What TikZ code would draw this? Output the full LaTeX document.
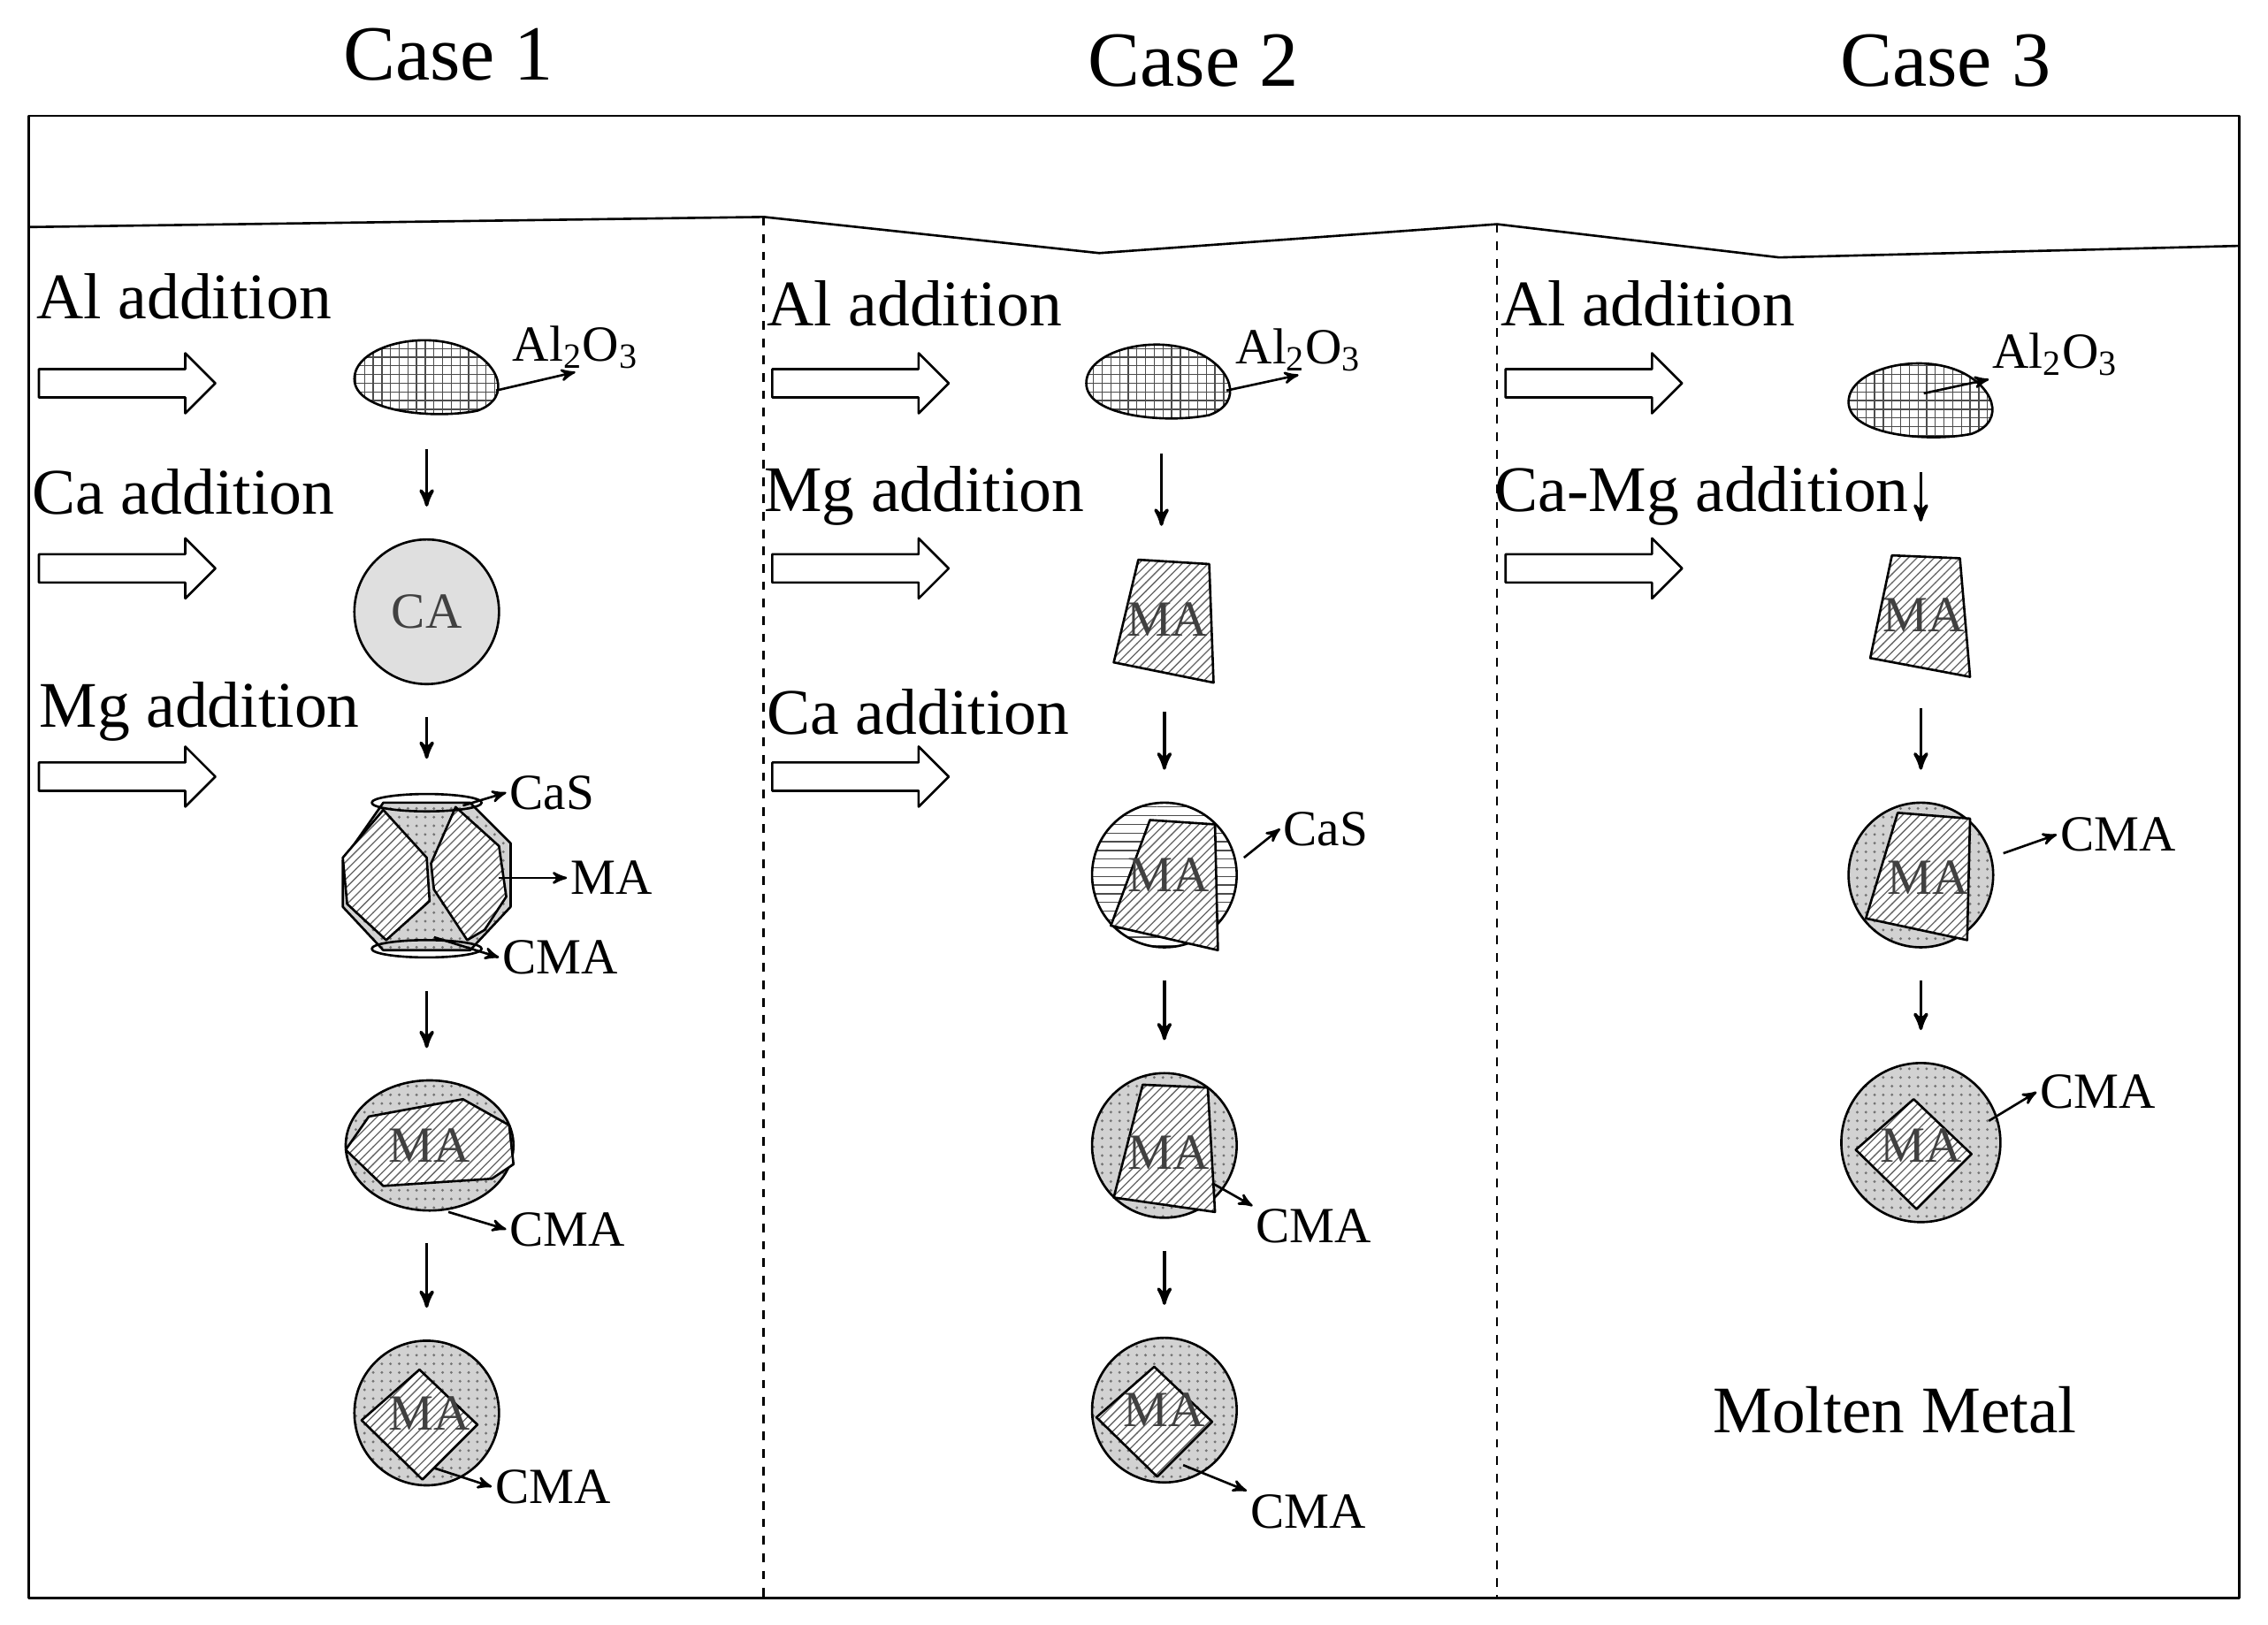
\documentclass[tikz,border=0pt]{standalone}
\usepackage{fontspec}
\setmainfont{Liberation Serif}
\usetikzlibrary{arrows,shapes.arrows,shapes.geometric,patterns,positioning}

\tikzset{
  case/.style={font=\fontsize{27}{30}\selectfont},
  add/.style={font=\fontsize{22.5}{25}\selectfont,anchor=west,inner sep=0},
  lab/.style={font=\fontsize{17.5}{20}\selectfont,inner sep=1pt},
  inlab/.style={font=\fontsize{17.5}{20}\selectfont,inner sep=0,text=black!75},
  hollow/.style={single arrow,draw,thick,fill=white,inner sep=4.5pt,minimum width=20pt,
    minimum height=61pt,single arrow head extend=5.5pt,single arrow head indent=0pt},
  slot/.style={inner sep=0,minimum width=#1},
  down/.style={->,>=stealth',line width=1.1pt,shorten >=11pt,shorten <=11pt},
  ptr/.style={->,>=stealth',thick},
  alo/.style={draw,thick,preaction={fill=white},pattern=grid,pattern color=black!70},
  ma/.style={draw,thick,preaction={fill=white},pattern=north east lines,pattern color=black!60},
  cma/.style={draw,thick,preaction={fill=gray!35},pattern=dots,pattern color=black!55},
  cas/.style={draw,thick,pattern=horizontal lines,pattern color=black!70},
}

\begin{document}
\begin{tikzpicture}[x=0.5pt,y=-0.5pt,line join=round]
\useasboundingbox (0,0) rectangle (1568,1123);
% frame and melt surface
\draw[thick] (20,80) rectangle (1548,1105);
\draw[thick] (20,157) -- (528,150) -- (760,175) -- (1035,155) -- (1230,178) -- (1548,170);
\draw[thick,dashed] (528,150) -- (528,1105);
\draw[thick,dashed] (1035,155) -- (1035,1105);
\node[case] (t1) at (310,38) {Case 1};
\node[case] (t2) at (825,42) {Case 2};
\node[case] (t3) at (1345,42) {Case 3};

% additions
\node[add] (ad11) at (25,205) {Al addition};
\node[add] (ad12) at (22,340) {Ca addition};
\node[add] (ad13) at (27,492) {Mg addition};
\node[add] (ad21) at (530,210) {Al addition};
\node[add] (ad22) at (528,343) {Mg addition};
\node[add] (ad23) at (530,492) {Ca addition};
\node[add] (ad31) at (1037,210) {Al addition};
\node[add] (ad32) at (1033,343) {Ca-Mg addition};
\foreach \x/\n in {83/1,590/2,1097/3}{
  \node[hollow] (h\n a) at (\x,265) {};
  \node[hollow] (h\n b) at (\x,393) {};
}
\node[hollow] (h1c) at (83,537) {};
\node[hollow] (h2c) at (590,537) {};

% ---- case 1
\node[slot=52pt,minimum height=26pt] (p11) at (295,262) {};
\draw[alo] (245,262) .. controls (245,240) and (290,228) .. (320,240)
  .. controls (345,250) and (355,275) .. (330,284) .. controls (300,290) and (245,285) .. cycle;
\node[lab,anchor=west] (l11) at (352,240) {Al\textsubscript{2}O\textsubscript{3}};
\draw[ptr] (343,270) -- (l11.south);
\node[circle,draw,thick,fill=gray!25,minimum size=50pt,inner sep=0] (p12) at (295,423) {};
\node[inlab] at (p12) {CA};
\node[slot=58pt,minimum height=58pt] (p13) at (295,605) {};
\begin{scope}[shift={(295,605)}]
  \draw[cma] (-30,-50) -- (30,-50) -- (58,-22) -- (58,22) -- (30,52) -- (-30,52) -- (-58,22) -- (-58,-10) -- cycle;
  \draw[ma] (-30,-45) -- (-58,-12) -- (-55,20) -- (-28,45) -- (2,18) -- (0,-12) -- cycle;
  \draw[ma] (20,-47) -- (50,-20) -- (55,15) -- (40,38) -- (28,45) -- (5,10) -- (3,-8) -- cycle;
  \draw[thick] (0,-50) ellipse (38 and 6);
  \draw[thick] (0,51) ellipse (38 and 6);
\end{scope}
\node[lab,anchor=west] (l12) at (350,548) {CaS};
\node[lab,anchor=west] (l13) at (392,607) {MA};
\node[lab,anchor=west] (l14) at (345,662) {CMA};
\draw[ptr] (320,557) -- (l12.west);
\draw[ptr] (345,607) -- (l13.west);
\draw[ptr] (300,648) -- (l14.west);
\node[slot=58pt,minimum height=45pt] (p14) at (295,792) {};
\draw[cma] (297,792) ellipse (58 and 45);
\draw[ma] (239,795) -- (255,772) -- (320,760) -- (352,778) -- (355,805) -- (340,815) -- (265,820) -- cycle;
\node[inlab] at (297,792) {MA};
\node[lab,anchor=west] (l15) at (350,850) {CMA};
\draw[ptr] (310,838) -- (l15.west);
\node[circle,cma,minimum size=50pt,inner sep=0] (p15) at (295,977) {};
\draw[ma] (295,977) ++(-45,5) -- ++(40,-35) -- ++(40,38) -- ++(-38,38) -- cycle;
\node[inlab] at (297,977) {MA};
\node[lab,anchor=west] (l16) at (340,1028) {CMA};
\draw[ptr] (300,1015) -- (l16.west);
\foreach \a/\b in {p11/p12,p12/p13,p13/p14,p14/p15}
  \draw[down] (\a.south) -- (\a.south |- \b.north);

% ---- case 2
\node[slot=52pt,minimum height=26pt] (p21) at (803,265) {};
\draw[alo] (751,265) .. controls (751,243) and (796,231) .. (826,243)
  .. controls (851,253) and (861,278) .. (836,287) .. controls (806,293) and (751,288) .. cycle;
\node[lab,anchor=west] (l21) at (852,242) {Al\textsubscript{2}O\textsubscript{3}};
\draw[ptr] (848,270) -- (l21.south);
\node[slot=34pt,minimum height=42pt] (p22) at (805,428) {};
\draw[ma] (787,387) -- (836,390) -- (839,472) -- (770,458) -- cycle;
\node[inlab] at (807,428) {MA};
\node[circle,cas,minimum size=50pt,inner sep=0] (p23) at (805,605) {};
\draw[ma] (795,567) -- (840,570) -- (842,657) -- (768,640) -- cycle;
\node[inlab] at (808,605) {MA};
\node[lab,anchor=west] (l22) at (885,573) {CaS};
\draw[ptr] (860,593) -- (l22.west);
\node[circle,cma,minimum size=50pt,inner sep=0] (p24) at (805,792) {};
\draw[ma] (790,750) -- (835,752) -- (840,838) -- (770,828) -- cycle;
\node[inlab] at (808,797) {MA};
\node[lab,anchor=west] (l23) at (866,848) {CMA};
\draw[ptr] (838,818) -- (l23.north west);
\node[circle,cma,minimum size=50pt,inner sep=0] (p25) at (805,975) {};
\draw[ma] (803,975) ++(-45,5) -- ++(40,-35) -- ++(40,38) -- ++(-38,38) -- cycle;
\node[inlab] at (805,975) {MA};
\node[lab,anchor=west] (l24) at (862,1045) {CMA};
\draw[ptr] (818,1013) -- (l24.north west);
\foreach \a/\b in {p21/p22,p22/p23,p23/p24,p24/p25}
  \draw[down] (\a.south) -- (\a.south |- \b.north);

% ---- case 3
\node[slot=52pt,minimum height=26pt] (p31) at (1328,278) {};
\draw[alo] (1278,278) .. controls (1278,256) and (1323,244) .. (1353,256)
  .. controls (1378,266) and (1388,291) .. (1363,300) .. controls (1333,306) and (1278,301) .. cycle;
\node[lab,anchor=west] (l31) at (1375,245) {Al\textsubscript{2}O\textsubscript{3}};
\draw[ptr] (1330,272) -- (l31.south west);
\node[slot=34pt,minimum height=42pt] (p32) at (1328,425) {};
\draw[ma] (1308,384) -- (1355,386) -- (1362,468) -- (1293,455) -- cycle;
\node[inlab] at (1330,425) {MA};
\node[circle,cma,minimum size=50pt,inner sep=0] (p33) at (1328,605) {};
\draw[ma] (1312,562) -- (1362,566) -- (1360,650) -- (1290,635) -- cycle;
\node[inlab] at (1333,607) {MA};
\node[lab,anchor=west] (l32) at (1422,577) {CMA};
\draw[ptr] (1385,590) -- (l32.west);
\node[circle,cma,minimum size=55pt,inner sep=0] (p34) at (1328,790) {};
\draw[ma] (1328,790) ++(-45,5) -- ++(40,-35) -- ++(40,38) -- ++(-38,38) -- cycle;
\node[inlab] at (1328,792) {MA};
\node[lab,anchor=west] (l33) at (1408,755) {CMA};
\draw[ptr] (1375,775) -- (l33.west);
\foreach \a/\b in {p31/p32,p32/p33,p33/p34}
  \draw[down] (\a.south) -- (\a.south |- \b.north);
\node[font=\fontsize{23}{26}\selectfont] (mm) at (1310,975) {Molten Metal};
\end{tikzpicture}
\end{document}
